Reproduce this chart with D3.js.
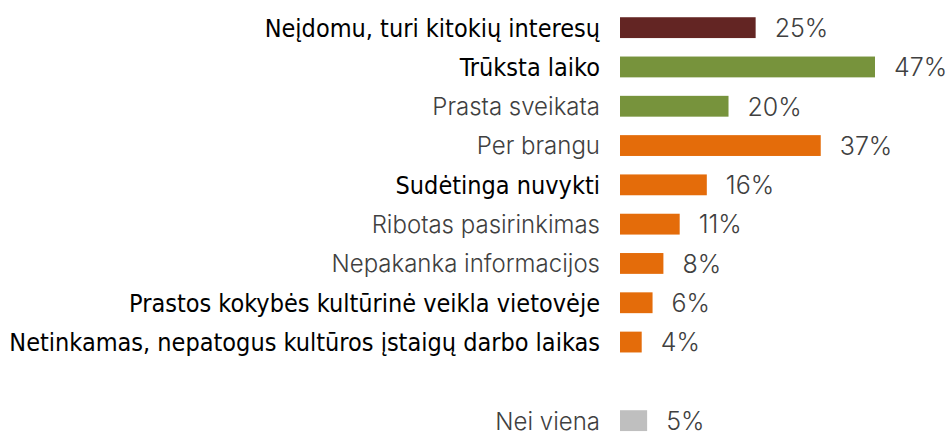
<!DOCTYPE html>
<html>
<head>
<meta charset="utf-8">
<script src="https://cdn.jsdelivr.net/npm/d3@7"></script>
<style>
  html, body { margin: 0; padding: 0; background: #fff; }
  svg { display: block; }
</style>
</head>
<body>
<svg id="chart" width="946" height="435"></svg>
<script>
// ---- data ----
const categories = [
  "Neįdomu, turi kitokių interesų",
  "Trūksta laiko",
  "Prasta sveikata",
  "Per brangu",
  "Sudėtinga nuvykti",
  "Ribotas pasirinkimas",
  "Nepakanka informacijos",
  "Prastos kokybės kultūrinė veikla vietovėje",
  "Netinkamas, nepatogus kultūros įstaigų darbo laikas",
  "",
  "Nei viena"
];
const values = [25, 47, 20, 37, 16, 11, 8, 6, 4, null, 5];
const groups = ["interest", "personal", "personal", "offer", "offer", "offer", "offer", "offer", "offer", null, "none"];
const emphasized = [true, true, false, false, true, false, false, true, true, false, false];

// ---- styles ----
const groupColor = {
  interest: "#632523",
  personal: "#77933C",
  offer: "#E46C0A",
  none: "#BFBFBF"
};
const fontFamily = "'DejaVu Sans Condensed', 'DejaVu Sans', sans-serif";
const lightFamily = "Inter, 'DejaVu Sans Condensed', sans-serif";

const svg = d3.select("#chart");
const x0 = 620;
const x = d3.scaleLinear().domain([0, 47]).range([x0, 875]);
const y = d3.scaleBand()
  .domain(d3.range(categories.length))
  .range([8, 8 + 39.3 * categories.length])
  .paddingInner(0.47)
  .paddingOuter(0.235);

const rows = categories.map((c, i) => ({ c, v: values[i], g: groups[i], e: emphasized[i], i }))
  .filter(d => d.v != null);

svg.selectAll("rect.bar").data(rows).join("rect")
  .attr("class", "bar")
  .attr("x", x(0))
  .attr("y", d => y(d.i))
  .attr("width", d => x(d.v) - x(0))
  .attr("height", y.bandwidth())
  .attr("fill", d => groupColor[d.g]);

svg.selectAll("text.cat").data(rows).join("text")
  .attr("class", "cat")
  .attr("x", x0 - 20)
  .attr("y", d => y(d.i) + y.bandwidth() / 2)
  .attr("dy", "0.37em")
  .attr("text-anchor", "end")
  .attr("font-family", d => d.e ? fontFamily : lightFamily)
  .attr("font-size", d => d.e ? 25.0 : 24)
  .attr("font-weight", d => d.e ? 400 : 300)
  .attr("fill", d => d.e ? "#000000" : "#404040")
  .text(d => d.c);

svg.selectAll("text.val").data(rows).join("text")
  .attr("class", "val")
  .attr("x", d => x(d.v) + 19)
  .attr("y", d => y(d.i) + y.bandwidth() / 2)
  .attr("dy", "0.37em")
  .attr("text-anchor", "start")
  .attr("font-family", lightFamily)
  .attr("font-size", 25)
  .attr("font-weight", 300)
  .attr("fill", "#404040")
  .text(d => d.v + "%");
</script>
</body>
</html>
